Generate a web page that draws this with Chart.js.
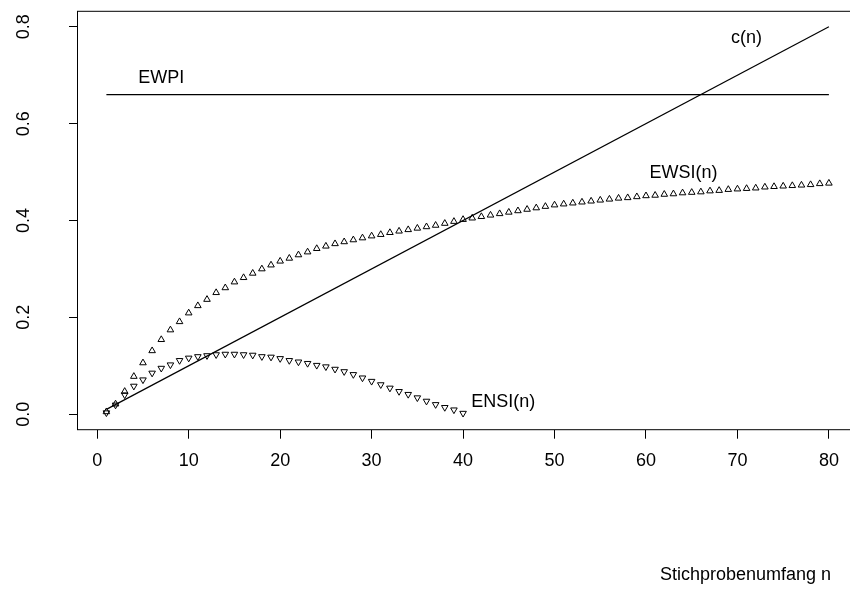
<!DOCTYPE html>
<html><head><meta charset="utf-8">
<script src="https://cdn.jsdelivr.net/npm/chart.js@4/dist/chart.umd.min.js"></script>
<style>html,body{margin:0;padding:0;overflow:hidden;background:#fff}#wrap{width:850px;height:590px;overflow:hidden}</style>
</head><body><div id="wrap"><canvas id="c" width="880" height="590"></canvas></div>
<script>
// ---- data ----
const nEWSI = [1,2,3,4,5,6,7,8,9,10,11,12,13,14,15,16,17,18,19,20,
  21,22,23,24,25,26,27,28,29,30,31,32,33,34,35,36,37,38,39,40,
  41,42,43,44,45,46,47,48,49,50,51,52,53,54,55,56,57,58,59,60,
  61,62,63,64,65,66,67,68,69,70,71,72,73,74,75,76,77,78,79,80];
const ewsi = [0.005,0.021,0.047,0.078,0.106,0.131,0.154,0.174,0.191,0.209,
  0.224,0.237,0.251,0.261,0.273,0.282,0.291,0.300,0.308,0.316,
  0.322,0.329,0.335,0.342,0.347,0.352,0.356,0.360,0.364,0.368,
  0.371,0.375,0.378,0.381,0.384,0.387,0.390,0.394,0.398,0.402,
  0.405,0.408,0.411,0.414,0.417,0.420,0.423,0.426,0.429,0.432,
  0.434,0.436,0.438,0.440,0.442,0.444,0.446,0.447,0.449,0.451,
  0.452,0.454,0.455,0.457,0.458,0.459,0.461,0.462,0.464,0.465,
  0.466,0.467,0.469,0.470,0.471,0.472,0.473,0.474,0.476,0.477];
const nENSI = [1,2,3,4,5,6,7,8,9,10,11,12,13,14,15,16,17,18,19,20,
  21,22,23,24,25,26,27,28,29,30,31,32,33,34,35,36,37,38,39,40];
const ensi = [0.003,0.019,0.040,0.058,0.071,0.085,0.095,0.102,0.111,0.116,
  0.119,0.121,0.123,0.124,0.124,0.123,0.122,0.119,0.118,0.115,
  0.111,0.108,0.105,0.101,0.098,0.093,0.088,0.082,0.075,0.068,
  0.061,0.054,0.047,0.041,0.034,0.027,0.020,0.014,0.009,0.002];
const cN = [1, 80];
const cVal = [0.01, 0.80];
const ewpiN = [1, 80];
const ewpiVal = [0.66, 0.66];
const xTicks = [0,10,20,30,40,50,60,70,80];
const yTicks = [0.0,0.2,0.4,0.6,0.8];
const labels = [
  {text:'EWPI', x:7, y:0.695},
  {text:'c(n)', x:71, y:0.777},
  {text:'EWSI(n)', x:64.1, y:0.497},
  {text:'ENSI(n)', x:44.4, y:0.026}
];
const xTitle = 'Stichprobenumfang n';

// ---- chart ----
const FONT = "'Liberation Sans', Arial, Helvetica, sans-serif";
Chart.defaults.font.family = FONT;
Chart.defaults.font.size = 18;
Chart.defaults.color = '#000';
const pts = (xs, ys) => xs.map((x, i) => ({x, y: ys[i]}));

const boxAndText = {
  id: 'boxAndText',
  afterDraw(chart) {
    const {ctx, chartArea: a, scales: {x, y}} = chart;
    ctx.save();
    ctx.strokeStyle = '#000';
    ctx.lineWidth = 1;
    ctx.strokeRect(a.left, a.top, a.right - a.left, a.bottom - a.top);
    ctx.fillStyle = '#000';
    ctx.font = '18px ' + FONT;
    ctx.textAlign = 'center';
    ctx.textBaseline = 'middle';
    labels.forEach(l => ctx.fillText(l.text, x.getPixelForValue(l.x), y.getPixelForValue(l.y)));
    ctx.textAlign = 'right';
    ctx.textBaseline = 'alphabetic';
    ctx.fillText(xTitle, 831, 580);
    ctx.restore();
  }
};

new Chart(document.getElementById('c'), {
  type: 'scatter',
  data: {
    datasets: [
      {label:'EWPI', data: pts(ewpiN, ewpiVal), showLine:true, borderColor:'#000', borderWidth:1.2, pointRadius:0, order:1},
      {label:'c(n)', data: pts(cN, cVal), showLine:true, borderColor:'#000', borderWidth:1.2, pointRadius:0, order:1},
      {label:'EWSI(n)', data: pts(nEWSI, ewsi), showLine:false, pointStyle:'triangle', pointRadius:3.8,
        borderColor:'#000', backgroundColor:'rgba(0,0,0,0)', pointBorderWidth:1, order:0},
      {label:'ENSI(n)', data: pts(nENSI, ensi), showLine:false, pointStyle:'triangle', pointRotation:180, pointRadius:3.8,
        borderColor:'#000', backgroundColor:'rgba(0,0,0,0)', pointBorderWidth:1, order:0}
    ]
  },
  options: {
    responsive:false, animation:false,
    layout:{padding:{top:11.3, right:22.2, left:0, bottom:0}},
    plugins:{legend:{display:false}, tooltip:{enabled:false}},
    scales:{
      x:{type:'linear', position:'bottom', min:-2.16, max:83.16,
        afterFit(s){ s.height = 160.3; s.paddingLeft = 0; s.paddingRight = 0; },
        afterBuildTicks(s){ s.ticks = xTicks.map(v => ({value:v})); },
        border:{display:false},
        grid:{display:true, drawOnChartArea:false, drawTicks:true, tickLength:9, color:'#000', lineWidth:1},
        ticks:{padding:12, maxRotation:0, minRotation:0, color:'#000', font:{size:18}}
      },
      y:{type:'linear', position:'left', min:-0.032, max:0.832,
        afterFit(s){ s.width = 77.5; s.paddingTop = 0; s.paddingBottom = 0; },
        afterBuildTicks(s){ s.ticks = yTicks.map(v => ({value:v})); },
        border:{display:false},
        grid:{display:true, drawOnChartArea:false, drawTicks:true, tickLength:8.5, color:'#000', lineWidth:1},
        ticks:{padding:32.5, minRotation:90, maxRotation:90, crossAlign:'center', color:'#000', font:{size:18},
          callback:(v) => Number(v).toFixed(1)}
      }
    }
  },
  plugins:[boxAndText]
});
</script></body></html>
